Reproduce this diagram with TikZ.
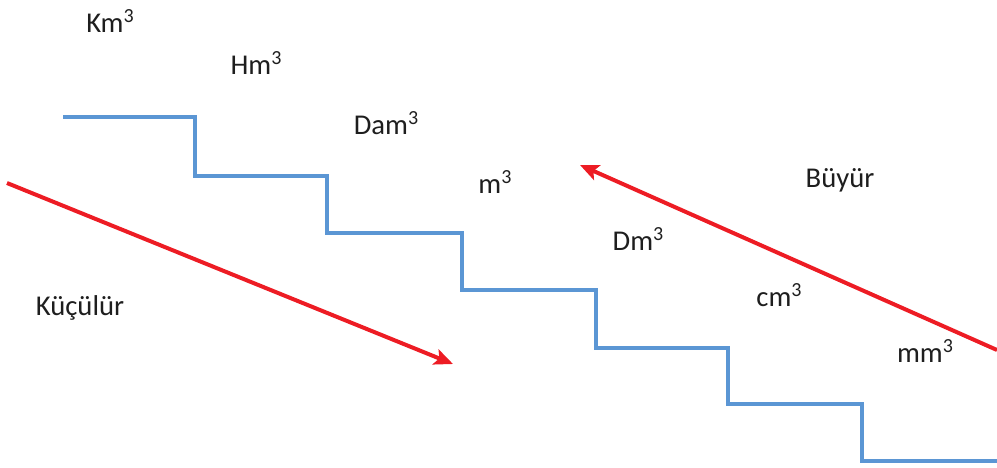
\documentclass[tikz,border=0pt]{standalone}
\usepackage{fontspec}
\setmainfont{Carlito}
\usetikzlibrary{arrows.meta}
\definecolor{stairblue}{RGB}{91,150,212}
\definecolor{arrowred}{RGB}{237,28,36}
\definecolor{labeltext}{RGB}{30,30,30}
\newcommand{\cube}{\raisebox{0.33em}{\fontsize{15}{15}\selectfont 3}}
\begin{document}
\begin{tikzpicture}[x=0.75pt,y=-0.75pt,
  unit/.style={font=\fontsize{21.5}{24}\selectfont, text=labeltext, inner sep=0pt},
  stair/.style={stairblue, line width=3pt, line join=miter},
  trend/.style={arrowred, line width=3pt, -{Stealth[length=14pt,width=12pt,inset=3pt]}}]
\useasboundingbox (0,0) rectangle (997,468);
% step outline
\coordinate (s0) at (63,117);
\draw[stair] (s0) -- (195,117) -- (195,176) -- (327,176) -- (327,233) -- (462,233)
  -- (462,290) -- (596,290) -- (596,348) -- (728,348) -- (728,404) -- (862,404)
  -- (862,461) -- (999,461);
% unit labels
\node[unit] (km) at (110,21) {Km\cube};
\node[unit] (hm) at (256,63) {Hm\cube};
\node[unit] (dam) at (386,123) {Dam\cube};
\node[unit] (m) at (495,182) {m\cube};
\node[unit] (dm) at (638,239) {Dm\cube};
\node[unit] (cm) at (779,295) {cm\cube};
\node[unit] (mm) at (925,351) {mm\cube};
\node[unit] (buyur) at (840,180) {Büyür};
\node[unit] (kuculur) at (80,308) {Küçülür};
% direction arrows
\coordinate (a1s) at (7,183);
\coordinate (a1e) at (453,364);
\coordinate (a2s) at (997,350);
\coordinate (a2e) at (580,165);
\draw[trend] (a1s) -- (a1e);
\draw[trend] (a2s) -- (a2e);
\end{tikzpicture}
\end{document}
